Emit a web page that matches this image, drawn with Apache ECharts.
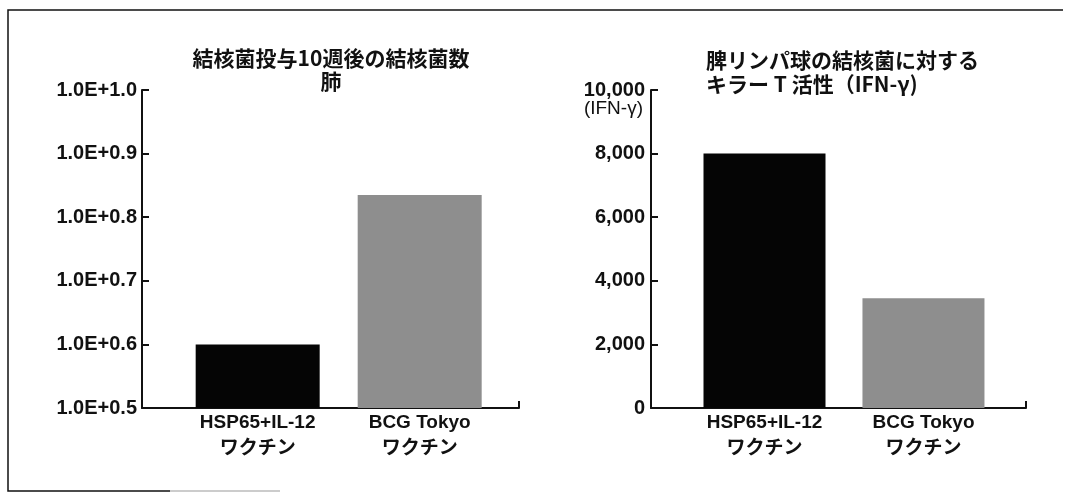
<!DOCTYPE html>
<html><head><meta charset="utf-8">
<script src="https://cdn.jsdelivr.net/npm/echarts@6/dist/echarts.min.js"></script>
<style>html,body{margin:0;padding:0;background:#fff}#c{width:1065px;height:493px}</style>
</head><body><div id="c"></div>
<script>
// ---- data ----
const categories = ['HSP65+IL-12\nワクチン', 'BCG Tokyo\nワクチン'];
const lungValues = [0.6, 0.835];
const ifnValues = [8000, 3450];
const lungTickLabels = ['1.0E+0.5', '1.0E+0.6', '1.0E+0.7', '1.0E+0.8', '1.0E+0.9', '1.0E+1.0'];
const ifnTickLabels = ['0', '2,000', '4,000', '6,000', '8,000', '10,000'];
const leftTitle = '結核菌投与10週後の結核菌数\n肺';
const rightTitle = '脾リンパ球の結核菌に対する\nキラー T 活性（IFN-γ)';
const ifnUnit = '(IFN-γ)';

// ---- styles ----
const barColors = ['#050505', '#8e8e8e'];
const INK = '#111';
const LAT = "'Liberation Sans', Arial, 'Noto Sans CJK JP', sans-serif";
const CJK = "'Noto Sans CJK JP', sans-serif";

function xAxisCfg(gi, min, max) {
  return {
    type: 'value', gridIndex: gi, min: min, max: max,
    splitLine: { show: false },
    axisLine: { show: true, onZero: false, lineStyle: { color: INK, width: 2 } },
    axisTick: { show: true, inside: true, length: 7, customValues: [max], lineStyle: { color: INK, width: 2 } },
    axisLabel: {
      show: true, customValues: [0, 1],
      formatter: v => categories[Math.round(v)],
      color: INK, fontFamily: LAT, fontWeight: 'bold', fontSize: 19, lineHeight: 26, margin: 2
    }
  };
}
function yAxisBase(gi) {
  return {
    type: 'value', gridIndex: gi,
    splitLine: { show: false },
    axisLine: { show: true, onZero: false, lineStyle: { color: INK, width: 2 } },
    axisTick: { show: true, inside: true, length: 7, lineStyle: { color: INK, width: 2 } }
  };
}

const yLeft = Object.assign(yAxisBase(0), {
  min: 0.5, max: 1.0, interval: 0.1,
  axisLabel: { formatter: v => lungTickLabels[Math.round((v - 0.5) / 0.1)], color: INK, fontFamily: LAT, fontWeight: 'bold', fontSize: 20, margin: 5 }
});
const yRight = Object.assign(yAxisBase(1), {
  min: 0, max: 10000, interval: 2000,
  axisLabel: { formatter: v => ifnTickLabels[Math.round(v / 2000)], color: INK, fontFamily: LAT, fontWeight: 'bold', fontSize: 20, margin: 6 }
});

const option = {
  backgroundColor: '#fff',
  animation: false,
  grid: [
    { left: 142, top: 90, width: 377, height: 318 },
    { left: 651, top: 90, width: 375, height: 318 }
  ],
  xAxis: [xAxisCfg(0, -0.714, 1.613), xAxisCfg(1, -0.714, 1.645)],
  yAxis: [yLeft, yRight],
  series: [
    {
      type: 'bar', xAxisIndex: 0, yAxisIndex: 0, barWidth: 124, clip: true,
      data: lungValues.map((v, i) => ({ value: [i, v], itemStyle: { color: barColors[i] } }))
    },
    {
      type: 'bar', xAxisIndex: 1, yAxisIndex: 1, barWidth: 122, clip: true,
      data: ifnValues.map((v, i) => ({ value: [i, v], itemStyle: { color: barColors[i] } }))
    }
  ],
  graphic: [
    { type: 'text', x: 331, y: 70, style: { text: leftTitle, textAlign: 'center', textVerticalAlign: 'middle', font: "bold 21px " + CJK, lineHeight: 23, fill: INK } },
    { type: 'text', x: 706, y: 72, style: { text: rightTitle, textAlign: 'left', textVerticalAlign: 'middle', font: "bold 21px " + CJK, lineHeight: 24, fill: INK } },
    { type: 'text', x: 643, y: 109, style: { text: ifnUnit, textAlign: 'right', textVerticalAlign: 'middle', font: "19px " + LAT, fill: INK } },
    { type: 'polyline', shape: { points: [[1063, 10], [8, 10], [8, 491], [170, 491]] }, style: { stroke: INK, lineWidth: 1.5, fill: null } },
    { type: 'line', shape: { x1: 170, y1: 491, x2: 280, y2: 491 }, style: { stroke: '#bbb', lineWidth: 1.5 } }
  ]
};
const chart = echarts.init(document.getElementById('c'), null, { renderer: 'canvas' });
chart.setOption(option);
</script>
</body></html>
